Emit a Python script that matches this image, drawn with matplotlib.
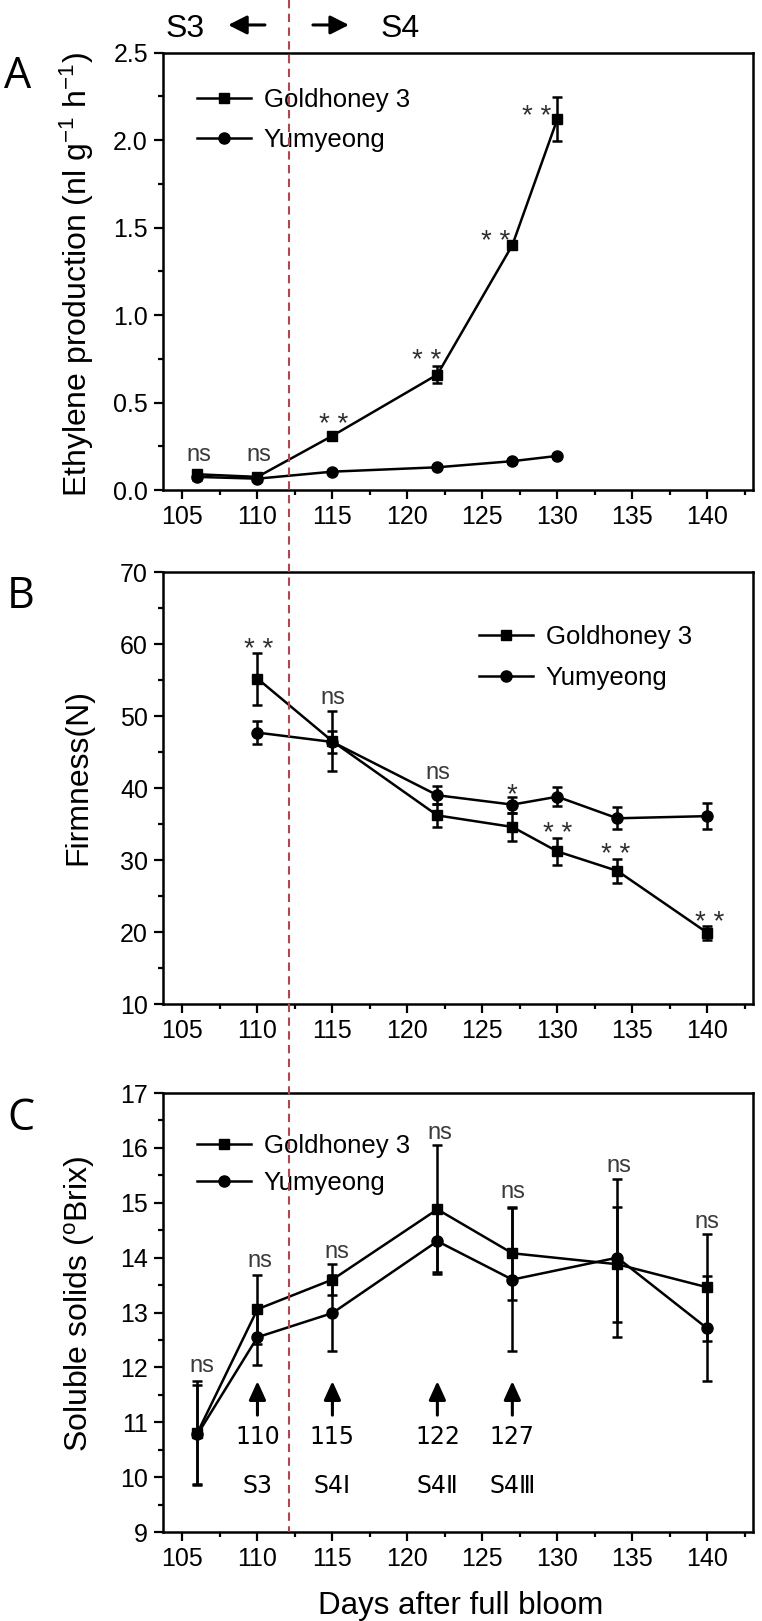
import matplotlib
matplotlib.use('Agg')
import matplotlib.pyplot as plt
import matplotlib.transforms as mtransforms
from matplotlib.lines import Line2D
from matplotlib.ticker import MultipleLocator

plt.rcParams['font.family'] = ['Liberation Sans', 'DejaVu Sans']
plt.rcParams['mathtext.default'] = 'regular'

# ---------------- data ----------------
series_names = ['Goldhoney 3', 'Yumyeong']

A_days = [106, 110, 115, 122, 127, 130]
A_gold = [0.09, 0.075, 0.31, 0.66, 1.40, 2.12]
A_gold_err = [0.02, 0.015, 0.02, 0.05, 0.01, 0.125]
A_yum = [0.075, 0.065, 0.105, 0.13, 0.165, 0.195]
A_yum_err = [0.015, 0.015, 0.01, 0.012, 0.012, 0.012]
A_sig_x = [106.1, 110.1, 115.07, 121.26, 125.9, 128.65]
A_sig_y = [0.20, 0.20, 0.425, 0.786, 1.468, 2.186]
A_sig = ['ns', 'ns', '**', '**', '**', '**']

B_days = [110, 115, 122, 127, 130, 134, 140]
B_gold = [55.2, 46.5, 36.2, 34.6, 31.2, 28.5, 19.9]
B_gold_err = [3.6, 4.2, 1.6, 1.9, 1.85, 1.7, 1.0]
B_yum = [47.7, 46.4, 39.0, 37.7, 38.8, 35.8, 36.1]
B_yum_err = [1.6, 1.5, 1.25, 1.1, 1.3, 1.55, 1.85]
B_sig_x = [110.06, 115.02, 122.0, 126.97, 130.04, 133.92, 140.14]
B_sig_y = [60.4, 52.5, 42.1, 40.3, 34.8, 31.9, 22.5]
B_sig = ['**', 'ns', 'ns', '*', '**', '**', '**']

C_days = [106, 110, 115, 122, 127, 134, 140]
C_gold = [10.81, 13.06, 13.6, 14.88, 14.08, 13.88, 13.46]
C_gold_err = [0.95, 0.63, 0.28, 1.17, 0.85, 1.05, 0.97]
C_yum = [10.78, 12.55, 12.99, 14.3, 13.6, 14.0, 12.71]
C_yum_err = [0.9, 0.51, 0.7, 0.57, 1.31, 1.44, 0.96]
C_sig_x = [106.32, 110.19, 115.3, 122.2, 127.03, 134.12, 140.0]
C_sig_y = [12.03, 13.95, 14.11, 16.28, 15.2, 15.67, 14.65]
C_sig = ['ns'] * 7

stage_days = [110, 115, 122, 127]
stage_day_labels = ['110', '115', '122', '127']
stage_names = ['S3', 'S4Ⅰ', 'S4Ⅱ', 'S4Ⅲ']
arrow_y = [11.13, 11.75]
stage_num_y = 10.73
stage_name_y = 9.83

stage_boundary = 112.12
top_labels = ['S3', 'S4']
top_label_x = [105.19, 119.5]
top_arrow_left = [110.5, 108.05]
top_arrow_right = [113.7, 116.1]

# ---------------- figure ----------------
fig = plt.figure(figsize=(7.62, 16.21), dpi=100)
L, W = 0.2133, 0.7743
axA = fig.add_axes([L, 0.6977, W, 0.2698])
axB = fig.add_axes([L, 0.3806, W, 0.2665])
axC = fig.add_axes([L, 0.0549, W, 0.2708])


def style(ax, ylim, major, minor):
    ax.set_xlim(103.67, 143.02)
    ax.set_ylim(*ylim)
    ax.xaxis.set_major_locator(MultipleLocator(5))
    ax.xaxis.set_minor_locator(MultipleLocator(2.5))
    ax.yaxis.set_major_locator(MultipleLocator(major))
    ax.yaxis.set_minor_locator(MultipleLocator(minor))
    ax.tick_params(which='both', direction='out', top=False, right=False,
                   width=1.6, labelsize=18, pad=4)
    ax.tick_params(which='major', length=6.5)
    ax.tick_params(which='minor', length=3.5)
    for s in ax.spines.values():
        s.set_linewidth(1.8)


def series(ax, x, g, ge, y, ye):
    for vals, err in ((g, ge), (y, ye)):
        ax.errorbar(x, vals, yerr=err, fmt='none', ecolor='black',
                    elinewidth=1.8, capsize=3.8, capthick=1.8, zorder=2)
    ax.plot(x, g, '-s', color='black', lw=1.8, ms=7, label=series_names[0], zorder=3)
    ax.plot(x, y, '-o', color='black', lw=1.8, ms=8, label=series_names[1], zorder=3)


def sig(ax, xs, ys, labels):
    for x, y, t in zip(xs, ys, labels):
        if t == 'ns':
            ax.annotate('ns', (x, y), xytext=(0, -4.4), textcoords='offset points',
                        ha='center', va='baseline', fontsize=17, color='#3a3a3a')
        else:
            txt = '* *' if t == '**' else '*'
            ax.annotate(txt, (x, y), xytext=(0, -11.5), textcoords='offset points',
                        ha='center', va='baseline', fontsize=20, color='#2e2e2e')


def legend(ax, anchor, spacing):
    ax.legend(loc='center left', bbox_to_anchor=anchor, frameon=False, fontsize=18.5,
              handlelength=2.1, handletextpad=0.5, labelspacing=spacing,
              borderpad=0, borderaxespad=0)


# Panel A
style(axA, (0, 2.5), 0.5, 0.25)
series(axA, A_days, A_gold, A_gold_err, A_yum, A_yum_err)
sig(axA, A_sig_x, A_sig_y, A_sig)
legend(axA, (0.058, 0.846), 0.65)
axA.set_ylabel('Ethylene production (nl g$^{-1}$ h$^{-1}$)', fontsize=23)
axA.yaxis.set_label_coords(-0.145, 0.492)
axA.yaxis.label.set_va('center')

# Panel B
style(axB, (10, 70), 10, 5)
series(axB, B_days, B_gold, B_gold_err, B_yum, B_yum_err)
sig(axB, B_sig_x, B_sig_y, B_sig)
legend(axB, (0.536, 0.802), 0.65)
axB.set_ylabel('Firmness(N)', fontsize=23)
axB.yaxis.set_label_coords(-0.143, 0.525)
axB.yaxis.label.set_va('center')

# Panel C
style(axC, (9, 17), 1, 0.5)
series(axC, C_days, C_gold, C_gold_err, C_yum, C_yum_err)
sig(axC, C_sig_x, C_sig_y, C_sig)
legend(axC, (0.058, 0.837), 0.5)
axC.set_ylabel('Soluble solids ($^{o}$Brix)', fontsize=23)
axC.yaxis.set_label_coords(-0.14, 0.519)
axC.yaxis.label.set_va('center')
axC.set_xlabel('Days after full bloom', fontsize=22.5)
axC.xaxis.set_label_coords(0.506, -0.169)
axC.xaxis.label.set_va('center')

stage_font = ['DejaVu Sans', 'Noto Sans CJK SC']
for d, num, name in zip(stage_days, stage_day_labels, stage_names):
    axC.annotate('', xy=(d, arrow_y[1]), xytext=(d, arrow_y[0]),
                 arrowprops=dict(arrowstyle='-|>,head_length=0.75,head_width=0.34',
                                 lw=2.2, color='black', mutation_scale=15,
                                 shrinkA=0, shrinkB=0))
    axC.text(d, stage_num_y, num, ha='center', va='center', fontsize=17, family=stage_font)
    axC.text(d, stage_name_y, name, ha='center', va='center', fontsize=17, family=stage_font)

# Stage boundary dashed line across all panels
trans = mtransforms.blended_transform_factory(axA.transData, fig.transFigure)
y_bot = axC.get_position().y0
fig.add_artist(Line2D([stage_boundary, stage_boundary], [1.0, y_bot], transform=trans,
                      color='#B0474F', lw=1.5, linestyle=(0, (4, 2.6))))

# Top S3 / S4 labels with arrows
narrow = ['Liberation Sans Narrow', 'Liberation Sans']
for x, t in zip(top_label_x, top_labels):
    fig.text(x, 0.9772, t, transform=trans, ha='center', va='baseline',
             fontsize=23, family=narrow)
arr = dict(arrowstyle='-|>,head_length=0.75,head_width=0.38', lw=2.2, color='black',
           mutation_scale=15, shrinkA=0, shrinkB=0)
axA.annotate('', xy=(top_arrow_left[1], 0.9846), xycoords=trans,
             xytext=(top_arrow_left[0], 0.9846), textcoords=trans,
             arrowprops=arr, annotation_clip=False)
axA.annotate('', xy=(top_arrow_right[1], 0.9846), xycoords=trans,
             xytext=(top_arrow_right[0], 0.9846), textcoords=trans,
             arrowprops=arr, annotation_clip=False)

# Panel letters
for t, x, y in (('A', 0.023, 0.9457), ('B', 0.027, 0.6249), ('C', 0.027, 0.3029)):
    fig.text(x, y, t, fontsize=31, family=['Open Sans', 'DejaVu Sans'],
             ha='center', va='baseline')

fig.savefig('out.png', dpi=100)
